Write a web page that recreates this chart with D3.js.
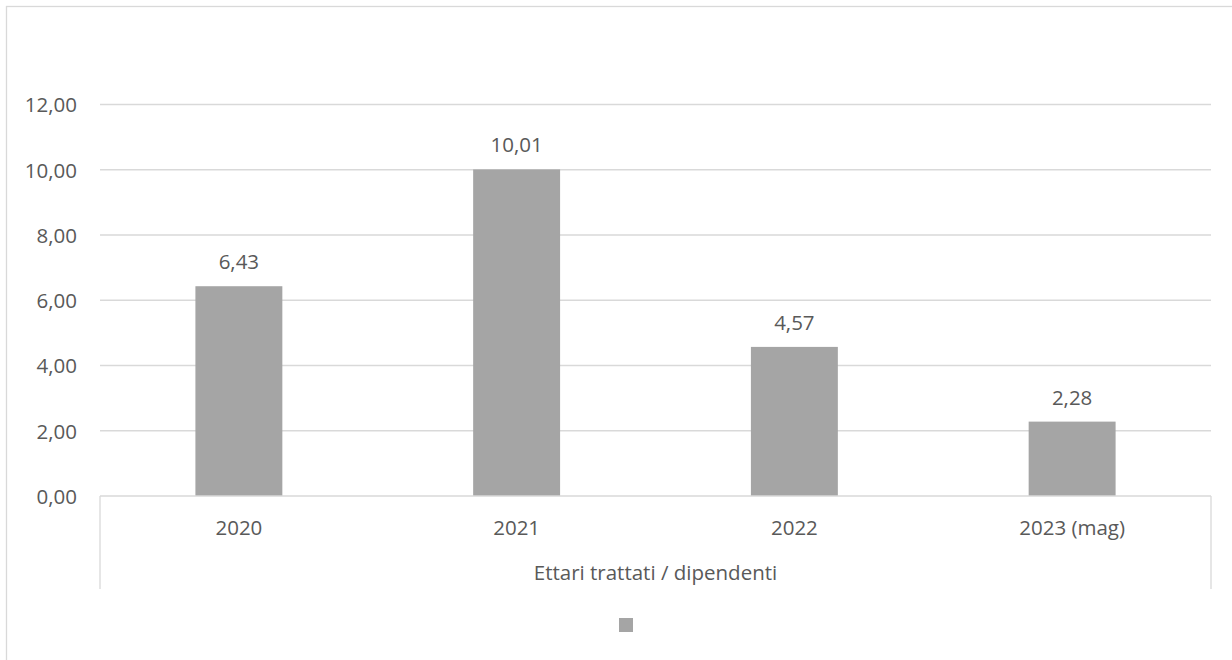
<!DOCTYPE html>
<html><head><meta charset="utf-8">
<script src="https://cdn.jsdelivr.net/npm/d3@7"></script>
<style>body{margin:0;background:#fff}svg{display:block}text{font-family:"Open Sans",sans-serif;fill:#595959}</style>
</head><body>
<svg id="c" width="1232" height="660"></svg>
<script>
const categories = ["2020", "2021", "2022", "2023 (mag)"];
const values = [6.43, 10.01, 4.57, 2.28];
const yTicks = [0, 2, 4, 6, 8, 10, 12];
const groupLabel = "Ettari trattati / dipendenti";

(function () {
const svg = d3.select("#c");
const fs = 20.5;
const fmt = v => d3.format(".2f")(v).replace(".", ",");
const pLeft = 100, pRight = 1211, pTop = 104.5, pBottom = 496;

svg.append("rect").attr("x", 6.5).attr("y", 6.5).attr("width", 1240).attr("height", 670)
  .attr("fill", "#fff").attr("stroke", "#D9D9D9").attr("stroke-width", 1.3);

const x = d3.scaleBand().domain(categories).range([pLeft, pRight]).paddingInner(0.687).paddingOuter(0.3435);
const y = d3.scaleLinear().domain([0, 12]).range([pBottom, pTop]);

// gridlines
svg.append("g").selectAll("line").data(yTicks.filter(t => t > 0)).join("line")
  .attr("x1", pLeft).attr("x2", pRight).attr("y1", d => y(d)).attr("y2", d => y(d))
  .attr("stroke", "#D9D9D9").attr("stroke-width", 1.3);

// y axis labels
const yAxis = d3.axisLeft(y).tickValues(yTicks).tickFormat(fmt).tickSize(0).tickPadding(0);
const ya = svg.append("g").attr("transform", `translate(77,0)`).call(yAxis);
ya.select(".domain").remove();
ya.selectAll("text").attr("font-size", fs).attr("font-family", "Open Sans").attr("fill", "#595959").attr("dy", "0.36em");

// bars
svg.append("g").selectAll("rect").data(values).join("rect")
  .attr("x", (d, i) => x(categories[i])).attr("width", x.bandwidth())
  .attr("y", d => y(d)).attr("height", d => y(0) - y(d)).attr("fill", "#A5A5A5");

// value labels
svg.append("g").selectAll("text").data(values).join("text")
  .attr("x", (d, i) => x(categories[i]) + x.bandwidth() / 2).attr("y", d => y(d) - 17)
  .attr("text-anchor", "middle").attr("font-size", fs).text(fmt);

// x axis
const xAxis = d3.axisBottom(x).tickSize(0).tickPadding(0);
const xa = svg.append("g").attr("transform", `translate(0,${pBottom})`).call(xAxis);
xa.select(".domain").remove();
xa.selectAll("text").attr("font-size", fs).attr("font-family", "Open Sans").attr("fill", "#595959").attr("dy", 0).attr("y", 39);
svg.append("line").attr("x1", pLeft).attr("x2", pRight).attr("y1", pBottom).attr("y2", pBottom)
  .attr("stroke", "#D9D9D9").attr("stroke-width", 1.3);
svg.append("g").selectAll("line").data([pLeft, pRight]).join("line")
  .attr("x1", d => d).attr("x2", d => d).attr("y1", pBottom).attr("y2", 589)
  .attr("stroke", "#D9D9D9").attr("stroke-width", 1.3);

svg.append("text").attr("x", (pLeft + pRight) / 2).attr("y", 580).attr("text-anchor", "middle")
  .attr("font-size", fs).text(groupLabel);

// legend marker (series without name)
svg.append("rect").attr("x", 619).attr("y", 618).attr("width", 14).attr("height", 14).attr("fill", "#A5A5A5");
})();
</script>
</body></html>
